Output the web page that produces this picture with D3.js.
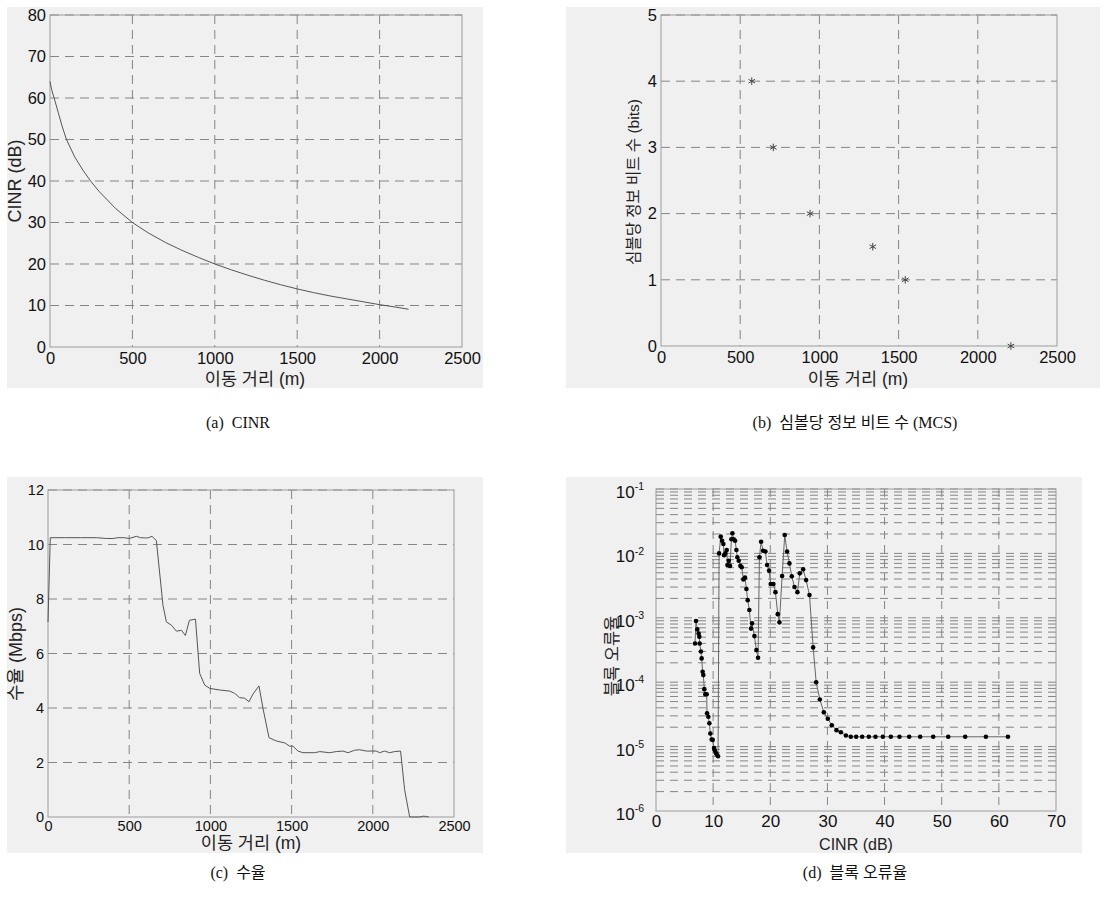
<!DOCTYPE html>
<html><head><meta charset="utf-8">
<script src="https://cdn.jsdelivr.net/npm/d3@7"></script>
<style>
html,body{margin:0;padding:0;background:#fff;}
svg{display:block;}
</style></head>
<body>
<script>
// ---------- DATA ----------
const distTicks = [0, 500, 1000, 1500, 2000, 2500];

// (a) CINR vs distance
const cinrDist = [0, 10, 25, 50, 75, 100, 150, 200, 250, 300, 400, 500, 600, 700, 800, 900, 1000, 1100, 1200, 1300, 1400, 1500, 1600, 1700, 1800, 1900, 2000, 2100, 2176];
const cinrDb   = [64, 62, 60, 56.5, 53, 50, 45.8, 42.6, 39.8, 37.4, 33.3, 30, 27.4, 25.2, 23.3, 21.6, 20, 18.6, 17.3, 16.1, 15, 14, 13.1, 12.3, 11.6, 10.9, 10.2, 9.6, 9.1];
const cinrTicks = [0, 10, 20, 30, 40, 50, 60, 70, 80];

// (b) bits per symbol (MCS) vs distance
const mcsDist = [573, 709, 941, 1337, 1542, 2209];
const mcsBits = [4, 3, 2, 1.5, 1, 0];
const mcsTicks = [0, 1, 2, 3, 4, 5];

// (c) throughput vs distance
const thrDist = [0, 14, 100, 200, 300, 360, 400, 430, 470, 500, 544, 570, 600, 620, 640, 667, 708, 729, 760, 791, 822, 846, 871, 908, 934, 965, 996, 1057, 1119, 1149, 1180, 1211, 1238, 1262, 1299, 1324, 1361, 1406, 1458, 1488, 1509, 1539, 1570, 1642, 1673, 1734, 1775, 1816, 1847, 1888, 1919, 1960, 2021, 2042, 2073, 2103, 2134, 2171, 2196, 2227, 2290, 2310, 2330, 2345];
const thrMbps = [7.15, 10.25, 10.25, 10.25, 10.25, 10.22, 10.22, 10.25, 10.25, 10.22, 10.3, 10.25, 10.24, 10.25, 10.3, 10.15, 7.77, 7.16, 7.04, 6.82, 6.85, 6.66, 7.22, 7.26, 5.27, 4.84, 4.72, 4.66, 4.62, 4.54, 4.38, 4.36, 4.23, 4.51, 4.81, 3.98, 2.91, 2.79, 2.72, 2.6, 2.6, 2.42, 2.36, 2.36, 2.4, 2.36, 2.4, 2.42, 2.36, 2.45, 2.47, 2.42, 2.42, 2.36, 2.42, 2.36, 2.4, 2.42, 1.0, 0, 0, 0.03, 0.02, 0];
const thrTicks = [0, 2, 4, 6, 8, 10, 12];

// (d) block error rate vs CINR
const blerCinr = [6.83, 7.0, 7.23, 7.46, 7.58, 7.64, 7.87, 7.99, 8.16, 8.28, 8.46, 8.63, 8.87, 8.93, 9.16, 9.34, 9.51, 9.75, 9.92, 10.16, 10.27, 10.45, 10.62, 10.86,
  11.04, 11.33, 11.56, 11.79, 11.91, 12.14, 12.38, 12.5, 12.73, 12.96, 13.2, 13.37, 13.6, 13.84, 14.07, 14.24, 14.48, 14.77, 15.0, 15.29, 15.58, 15.82, 16.05, 16.34, 16.63, 16.81, 17.22, 17.57, 17.86,
  18.1, 18.39, 18.74, 19.15, 19.44, 19.79, 20.08, 20.55, 20.9, 21.31, 21.6, 22.07, 22.53, 22.94, 23.35, 23.76, 24.23, 24.75, 25.16, 25.75, 26.27, 26.86, 27.5, 28.03, 28.67, 29.37, 30.07, 30.77, 31.59, 32.35, 33.23,
  34.09, 35.03, 36.08, 37.24, 38.41, 39.7, 41.1, 42.61, 44.31, 46.23, 48.51, 51.14, 54.11, 57.73, 61.59];
const blerRate = [4.0e-4, 8.9e-4, 6.6e-4, 5.7e-4, 5.1e-4, 4.0e-4, 3.0e-4, 2.34e-4, 1.45e-4, 1.29e-4, 7.8e-5, 6.5e-5, 6.5e-5, 3.3e-5, 2.9e-5, 2.3e-5, 1.6e-5, 1.29e-5, 1.27e-5, 9.5e-6, 8.8e-6, 8.0e-6, 7.6e-6, 7.1e-6,
  1.0e-2, 1.82e-2, 1.57e-2, 1.4e-2, 9.4e-3, 1.0e-2, 1.13e-2, 6.6e-3, 7.7e-3, 6.4e-3, 1.66e-2, 2.05e-2, 1.66e-2, 1.57e-2, 1.13e-2, 8.7e-3, 7.7e-3, 6.4e-3, 6.1e-3, 3.95e-3, 4.2e-3, 2.8e-3, 1.88e-3, 1.32e-3, 6.8e-4, 8.2e-4, 5.2e-4, 3.15e-4, 2.4e-4,
  8.7e-3, 1.52e-2, 1.1e-2, 1.07e-2, 6.6e-3, 5.4e-3, 3.34e-3, 3.34e-3, 2.5e-3, 1.14e-3, 8.5e-4, 4.45e-3, 1.93e-2, 1.07e-2, 7.0e-3, 4.4e-3, 3.0e-3, 2.5e-3, 4.9e-3, 5.65e-3, 3.85e-3, 2.25e-3, 3.47e-4, 1.0e-4, 5.4e-5, 3.4e-5, 2.7e-5, 2.15e-5, 1.8e-5, 1.67e-5, 1.49e-5,
  1.42e-5, 1.42e-5, 1.42e-5, 1.42e-5, 1.42e-5, 1.42e-5, 1.42e-5, 1.42e-5, 1.42e-5, 1.42e-5, 1.42e-5, 1.42e-5, 1.42e-5, 1.42e-5, 1.42e-5];
const cinrTicksD = [0, 10, 20, 30, 40, 50, 60, 70];
const blerExp = [-6, -5, -4, -3, -2, -1];

// text
const xLabelDist = "이동 거리 (m)";
const yLabels = ["CINR (dB)", "심볼당 정보 비트 수 (bits)", "수율 (Mbps)", "블록 오류율"];
const xLabelD = "CINR (dB)";
const captions = ["(a)  CINR", "(b)  심볼당 정보 비트 수 (MCS)", "(c)  수율", "(d)  블록 오류율"];

// ---------- DRAW ----------
const W = 1106, H = 901;
const SANS = "'Liberation Sans', Arial, 'Noto Sans CJK KR', sans-serif";
const SERIF = "'Liberation Serif', 'Times New Roman', 'Noto Sans CJK KR', serif";
const GRID = "#858585", BOX = "#9c9c9c", BG = "#f0f0f0";

const svg = d3.select("body").append("svg").attr("width", W).attr("height", H);

function panel(cfg) {
  const g = svg.append("g");
  g.append("rect").attr("x", cfg.bg[0]).attr("y", cfg.bg[1]).attr("width", cfg.bg[2]).attr("height", cfg.bg[3]).attr("fill", BG);
  const p = cfg.plot; // l,r,t,b
  const x = d3.scaleLinear().domain(cfg.xDomain).range([p.l, p.r]);
  const y = (cfg.log ? d3.scaleLog() : d3.scaleLinear()).domain(cfg.yDomain).range([p.b, p.t]);
  // grid
  const grid = g.append("g").attr("stroke", GRID).attr("stroke-width", 1).attr("stroke-dasharray", cfg.dash || "9,6").attr("fill", "none");
  cfg.xTicks.forEach(v => { if (v !== cfg.xDomain[0] && v !== cfg.xDomain[1]) grid.append("line").attr("x1", x(v)).attr("x2", x(v)).attr("y1", p.t).attr("y2", p.b); });
  cfg.yGrid.forEach(v => { if (Math.abs(y(v) - p.b) > 1) grid.append("line").attr("x1", p.l).attr("x2", p.r).attr("y1", y(v)).attr("y2", y(v)); });
  // box
  g.append("rect").attr("x", p.l).attr("y", p.t).attr("width", p.r - p.l).attr("height", p.b - p.t).attr("fill", "none").attr("stroke", BOX).attr("stroke-width", 1);
  // axes via d3
  const fs = cfg.fs;
  const ax = g.append("g").attr("transform", `translate(0,${p.b})`)
    .call(d3.axisBottom(x).tickValues(cfg.xTicks).tickSize(0).tickPadding(cfg.xPad || 5).tickFormat(d3.format("d")));
  ax.select(".domain").remove();
  ax.selectAll("text").attr("font-family", SANS).attr("font-size", fs).attr("fill", "#111");
  const ay = g.append("g").attr("transform", `translate(${p.l},0)`)
    .call(d3.axisLeft(y).tickValues(cfg.yTicks).tickSize(0).tickPadding(4).tickFormat(cfg.yFmt || d3.format("d")));
  ay.select(".domain").remove();
  ay.selectAll("text").attr("font-family", SANS).attr("font-size", fs).attr("fill", "#111");
  if (cfg.log) {
    ay.selectAll(".tick text").text(null).each(function (d) {
      const t = d3.select(this);
      t.append("tspan").text("10");
      t.append("tspan").attr("font-size", fs * 0.62).attr("dy", "-0.75em").text(String(Math.round(Math.log10(d))));
    }).attr("x", -12).attr("dy", "0.5em");
  }
  // labels
  g.append("text").attr("x", cfg.xl[0]).attr("y", cfg.xl[1]).attr("text-anchor", "middle")
    .attr("font-family", SANS).attr("font-size", cfg.xfs).attr("fill", "#222").text(cfg.xLabel);
  g.append("text").attr("transform", `translate(${cfg.yl[0]},${cfg.yl[1]}) rotate(-90)`).attr("text-anchor", "middle")
    .attr("font-family", SANS).attr("font-size", cfg.yfs).attr("fill", "#222").text(cfg.yLabel);
  svg.append("text").attr("x", cfg.cap[0]).attr("y", cfg.cap[1]).attr("text-anchor", "middle")
    .attr("font-family", SERIF).attr("font-size", 16).attr("fill", "#111").attr("xml:space", "preserve").text(cfg.caption);
  return { g, x, y };
}

// (a)
{
  const { g, x, y } = panel({
    bg: [7, 7, 476, 381], plot: { l: 50, r: 462, t: 15, b: 347 },
    xDomain: [0, 2500], yDomain: [0, 80], xTicks: distTicks, yTicks: cinrTicks, yGrid: cinrTicks,
    fs: 16.5, xfs: 17.5, yfs: 18, xLabel: xLabelDist, yLabel: yLabels[0], xl: [255, 385], yl: [21, 181],
    caption: captions[0], cap: [238, 428]
  });
  g.append("path").datum(cinrDist.map((d, i) => [d, cinrDb[i]]))
    .attr("d", d3.line().x(d => x(d[0])).y(d => y(d[1]))).attr("fill", "none").attr("stroke", "#555").attr("stroke-width", 1);
}
// (b)
{
  const { g, x, y } = panel({
    bg: [566, 7, 534, 381], plot: { l: 661, r: 1057, t: 15, b: 346 },
    xDomain: [0, 2500], yDomain: [0, 5], xTicks: distTicks, yTicks: mcsTicks, yGrid: mcsTicks,
    fs: 16.5, xfs: 17.5, yfs: 15.5, xLabel: xLabelDist, yLabel: yLabels[1], xl: [858, 385], yl: [639, 182],
    caption: captions[1], cap: [855, 428]
  });
  g.selectAll("path.m").data(mcsDist.map((d, i) => [d, mcsBits[i]])).join("path")
    .attr("transform", d => `translate(${x(d[0])},${y(d[1])})`)
    .attr("d", d3.symbol(d3.symbolAsterisk, 40)).attr("fill", "none").attr("stroke", "#444").attr("stroke-width", 1);
}
// (c)
{
  const { g, x, y } = panel({
    bg: [7, 477, 476, 376], plot: { l: 48, r: 454, t: 490, b: 817 },
    xDomain: [0, 2500], yDomain: [0, 12], xTicks: distTicks, yTicks: thrTicks, yGrid: thrTicks,
    fs: 14.5, xfs: 17.5, yfs: 18, xLabel: xLabelDist, yLabel: yLabels[2], xl: [251, 849], yl: [22, 654],
    caption: captions[2], cap: [238, 878], xPad: 4
  });
  g.append("path").datum(thrDist.map((d, i) => [d, thrMbps[i]]))
    .attr("d", d3.line().x(d => x(d[0])).y(d => y(d[1]))).attr("fill", "none").attr("stroke", "#555").attr("stroke-width", 1);
}
// (d)
{
  const minor = [];
  blerExp.forEach(e => { if (e < -1) for (let k = 1; k <= 9; k++) minor.push(k * Math.pow(10, e)); });
  minor.push(0.1);
  const { g, x, y } = panel({
    bg: [566, 477, 516, 376], plot: { l: 656, r: 1056, t: 489, b: 811 },
    xDomain: [0, 70], yDomain: [1e-6, 1e-1], log: true, xTicks: cinrTicksD, yTicks: blerExp.map(e => Math.pow(10, e)), yGrid: minor,
    fs: 17, xfs: 16, yfs: 16.5, xLabel: xLabelD, yLabel: yLabels[3], xl: [856, 850], yl: [618, 656],
    caption: captions[3], cap: [855, 878], dash: "8,6", xPad: 4
  });
  const pts = blerCinr.map((d, i) => [d, blerRate[i]]);
  g.append("path").datum(pts).attr("d", d3.line().x(d => x(d[0])).y(d => y(d[1])))
    .attr("fill", "none").attr("stroke", "#666").attr("stroke-width", 1);
  g.selectAll("circle").data(pts).join("circle").attr("cx", d => x(d[0])).attr("cy", d => y(d[1])).attr("r", 2.3).attr("fill", "#000");
}
</script>
</body></html>
